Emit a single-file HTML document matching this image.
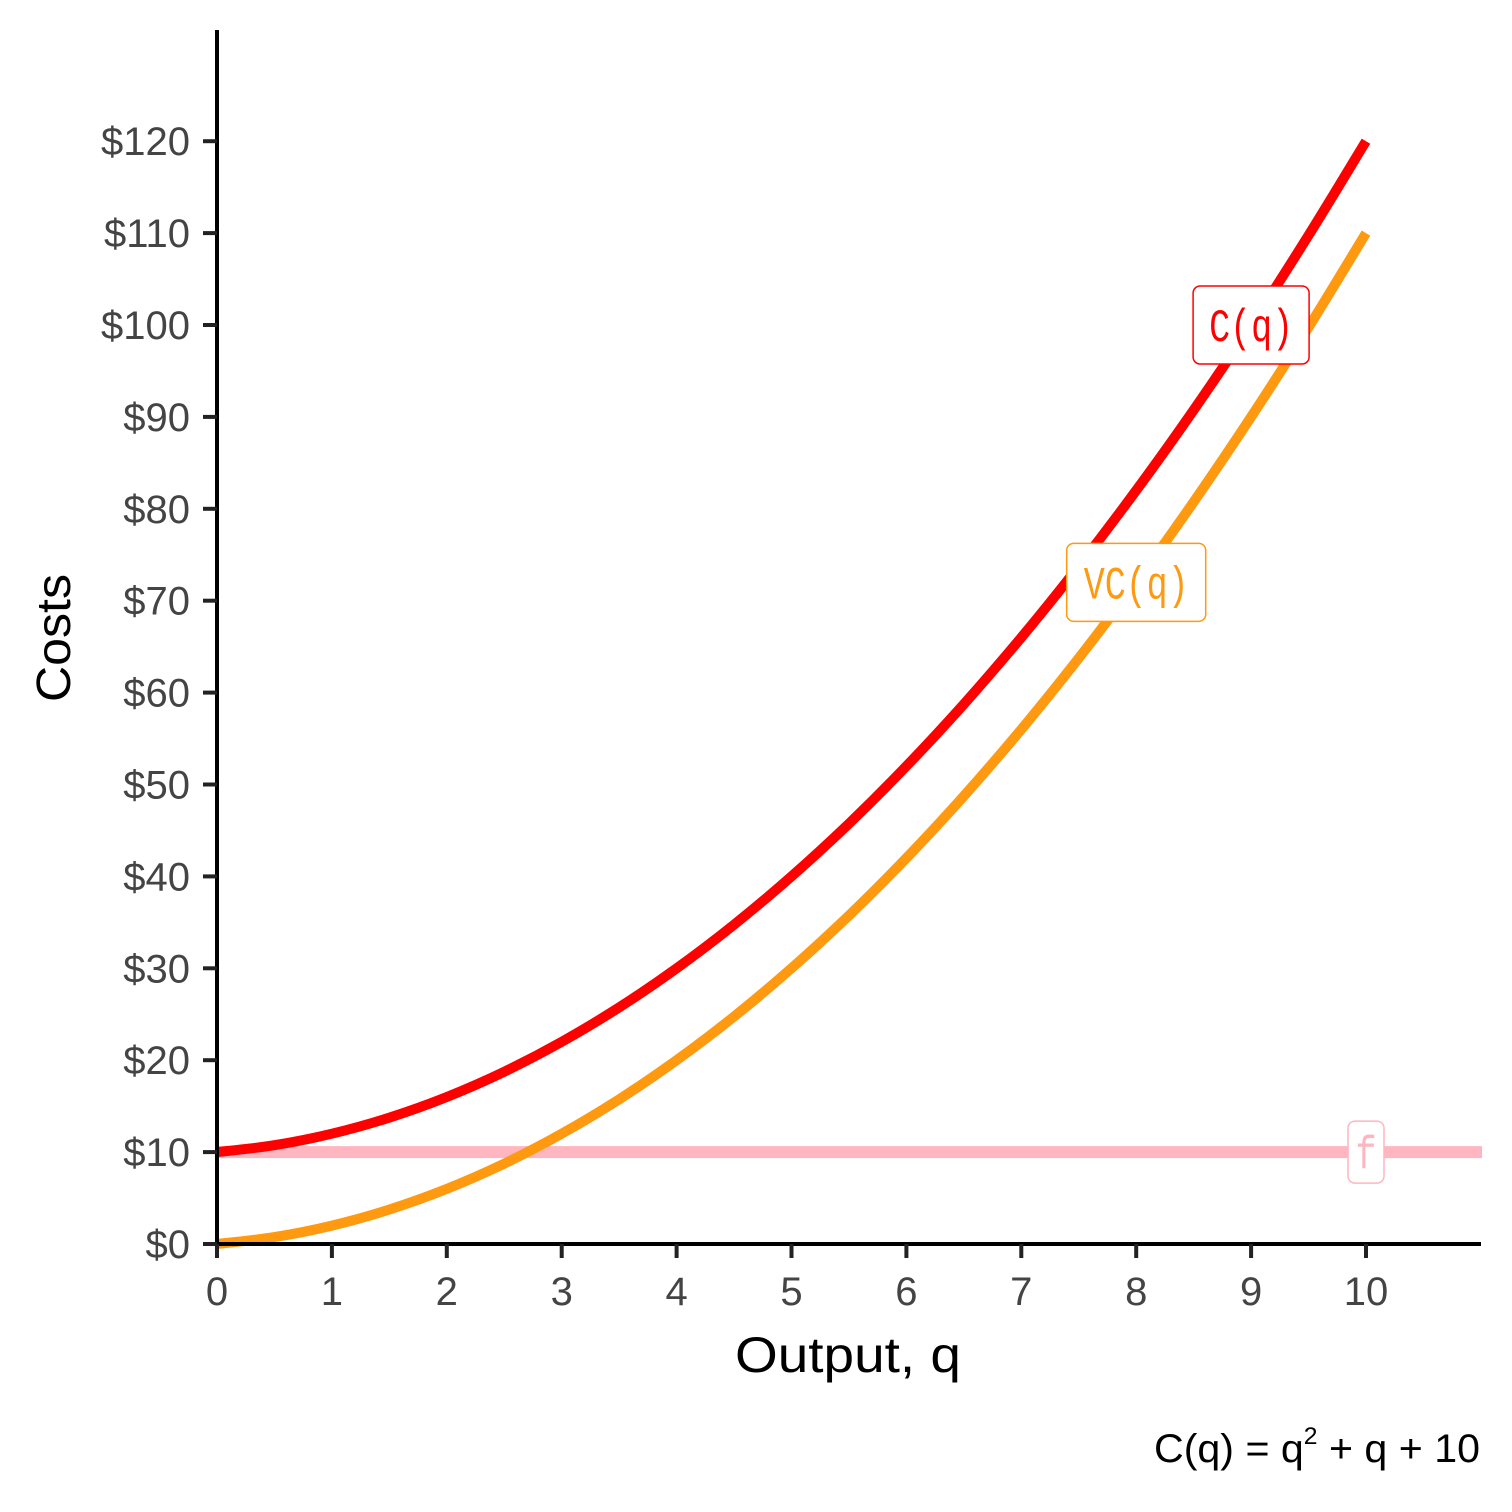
<!DOCTYPE html>
<html><head><meta charset="utf-8"><style>
html,body{margin:0;padding:0;background:#fff;}
svg{display:block;}
text{font-family:"Liberation Sans",sans-serif;}
</style></head><body>
<svg id="chart" width="1512" height="1512" viewBox="0 0 1512 1512" xmlns="http://www.w3.org/2000/svg">
<g id="marks"></g>
<g id="axes"></g>
<text x="70" y="638" font-size="48" text-anchor="middle" transform="rotate(-90 70 638)" textLength="128" lengthAdjust="spacingAndGlyphs">Costs</text>
<text x="848" y="1372" font-size="50" text-anchor="middle" textLength="226" lengthAdjust="spacingAndGlyphs">Output, q</text>
<text x="1480" y="1462" font-size="40" text-anchor="end" textLength="326" lengthAdjust="spacingAndGlyphs">C(q) = q<tspan font-size="24" dy="-18">2</tspan><tspan dy="18"> + q + 10</tspan></text>
</svg>
<script>
const qValues=[0,0.5,1,1.5,2,2.5,3,3.5,4,4.5,5,5.5,6,6.5,7,7.5,8,8.5,9,9.5,10];
const totalCost=[10,10.75,12,13.75,16,18.75,22,25.75,30,34.75,40,45.75,52,58.75,66,73.75,82,90.75,100,109.75,120];
const variableCost=[0,0.75,2,3.75,6,8.75,12,15.75,20,24.75,30,35.75,42,48.75,56,63.75,72,80.75,90,99.75,110];
const fixedCost=10;
const xTicks=[0,1,2,3,4,5,6,7,8,9,10];
const yTicks=[0,10,20,30,40,50,60,70,80,90,100,110,120];
const labels=[{t:"C(q)",q:9,v:100,c:"#FF0000"},{t:"VC(q)",q:8,v:72,c:"#FF9910"},{t:"f",q:10,v:10,c:"#FFB6C1"}];

const NS="http://www.w3.org/2000/svg";
const X=q=>217+q*114.9;
const Y=v=>1244-v*9.19;
const marks=document.getElementById('marks'), axes=document.getElementById('axes');
function mk(tag,attrs,parent){const e=document.createElementNS(NS,tag);for(const k in attrs)e.setAttribute(k,attrs[k]);parent.appendChild(e);return e;}

let f=mk('line',{x1:X(0),x2:1482,y1:Y(fixedCost),y2:Y(fixedCost),stroke:"#FFB6C1","stroke-width":12},marks);


function curve(vals,color,name){
  const pts=vals.map((v,i)=>[X(qValues[i]),Y(v)]);
  let d='M'+pts[0][0].toFixed(1)+','+pts[0][1].toFixed(1);
  for(let i=0;i<pts.length-1;i++){
    const p0=pts[Math.max(0,i-1)],p1=pts[i],p2=pts[i+1],p3=pts[Math.min(pts.length-1,i+2)];
    const c1=[p1[0]+(p2[0]-p0[0])/6,p1[1]+(p2[1]-p0[1])/6];
    const c2=[p2[0]-(p3[0]-p1[0])/6,p2[1]-(p3[1]-p1[1])/6];
    d+=' C'+c1.map(n=>n.toFixed(1)).join(',')+' '+c2.map(n=>n.toFixed(1)).join(',')+' '+p2.map(n=>n.toFixed(1)).join(',');
  }
  const p=mk('path',{d:d,fill:"none",stroke:color,"stroke-width":10},marks);
  
  
}
curve(variableCost,"#FF9910","variable-cost-curve");
curve(totalCost,"#FF0000","total-cost-curve");

labels.forEach(l=>{
  const g=mk('g',{},marks);
  
  
  const w=l.t.length*23+24, h=78;
  const r=mk('rect',{x:X(l.q)-w/2,y:Y(l.v)-h/2,width:w,height:h,rx:7,fill:"#fff",stroke:l.c,"stroke-width":1.5},g);
  const t=mk('text',{x:X(l.q),y:Y(l.v)+16,"font-size":46,"text-anchor":"middle",fill:l.c,textLength:l.t.length*21,lengthAdjust:"spacingAndGlyphs",style:"font-family:'Liberation Mono',monospace"},g);
  t.textContent=l.t;
  if(l.t==="f"){r.setAttribute('width',36);r.setAttribute('x',X(l.q)-18);r.setAttribute('height',62);r.setAttribute('y',Y(l.v)-31);}
});

const ya=mk('line',{x1:217,x2:217,y1:30,y2:1246,stroke:"#000","stroke-width":4},axes);


const xa=mk('line',{x1:215,x2:1481,y1:1244,y2:1244,stroke:"#000","stroke-width":4},axes);


yTicks.forEach(v=>{
  mk('line',{x1:203,x2:217,y1:Y(v),y2:Y(v),stroke:"#222","stroke-width":4},axes);
  const t=mk('text',{x:190,y:Y(v)+14,"font-size":40,"text-anchor":"end",fill:"#444"},axes);
  
  
  t.textContent='$'+v;
});
xTicks.forEach(q=>{
  mk('line',{x1:X(q),x2:X(q),y1:1244,y2:1258,stroke:"#222","stroke-width":4},axes);
  const t=mk('text',{x:X(q),y:1305,"font-size":40,"text-anchor":"middle",fill:"#444"},axes);
  
  
  t.textContent=q;
});
</script>
</body></html>
